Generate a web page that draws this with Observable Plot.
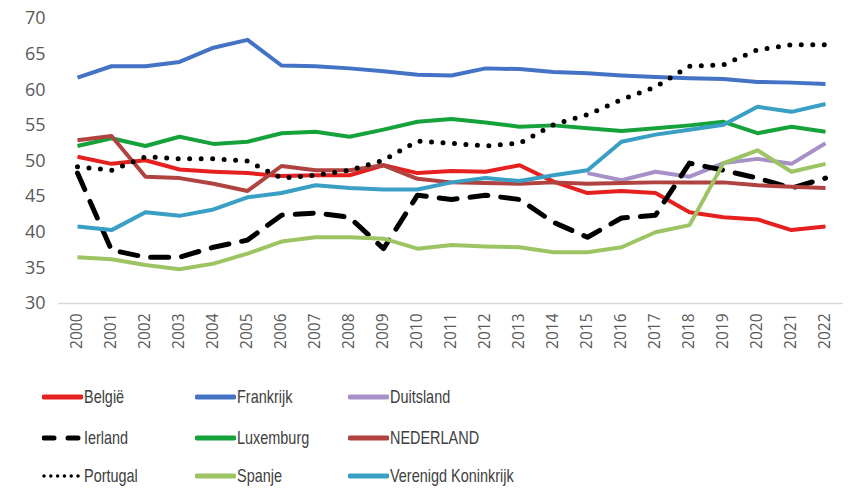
<!DOCTYPE html>
<html>
<head>
<meta charset="utf-8">
<script src="https://cdn.jsdelivr.net/npm/d3@7"></script>
<script src="https://cdn.jsdelivr.net/npm/@observablehq/plot@0.6"></script>
<style>
  html, body { margin: 0; padding: 0; background: #fff; }
  #chart { width: 850px; }
  #legend {
    position: relative;
    width: 850px;
    height: 141px;
    font-family: "Liberation Sans", "Open Sans", sans-serif;
    font-size: 19px;
    color: #404040;
  }
  .item { position: absolute; display: flex; align-items: center; height: 24px; }
  .item svg { display: block; margin-right: 1px; }
  .item span { display: inline-block; transform: scaleX(0.76); transform-origin: left center; white-space: nowrap; }
</style>
</head>
<body>
<div id="chart"></div>
<div id="legend"></div>
<script>
const years = d3.range(2000, 2023);

const belgie    = [50.6,49.6,50.1,48.8,48.5,48.3,47.9,48.0,48.0,49.4,48.3,48.6,48.5,49.4,47.1,45.5,45.8,45.5,42.8,42.1,41.8,40.3,40.8];
const frankrijk = [61.7,63.3,63.3,63.9,65.9,67.0,63.4,63.3,63.0,62.6,62.1,62.0,63.0,62.9,62.5,62.3,62.0,61.8,61.6,61.5,61.1,61.0,60.8];
const duitsland = [null,null,null,null,null,null,null,null,null,null,null,null,null,null,null,48.3,47.3,48.5,47.8,49.7,50.3,49.6,52.5];
const ierland   = [48.3,37.5,36.5,36.5,37.9,38.9,42.4,42.7,42.1,37.7,45.2,44.6,45.2,44.6,41.4,39.3,42.0,42.4,49.7,48.7,47.6,46.2,47.6];
const luxemburg = [52.1,53.2,52.1,53.4,52.4,52.7,53.9,54.1,53.4,54.4,55.5,55.9,55.4,54.8,55.0,54.6,54.2,54.6,55.0,55.5,53.9,54.8,54.1];
const nederland = [52.9,53.5,47.8,47.6,46.8,45.8,49.3,48.7,48.7,49.4,47.5,47.0,46.9,46.8,47.0,46.8,46.9,47.0,47.0,47.0,46.6,46.4,46.2];
const portugal  = [49.2,48.7,50.6,50.3,50.3,50.0,47.6,48.0,48.7,50.1,52.8,52.5,52.1,52.5,55.1,56.5,58.6,60.4,63.3,63.5,65.6,66.3,66.3];
const spanje    = [36.5,36.2,35.4,34.8,35.6,37.0,38.7,39.3,39.3,39.1,37.7,38.2,38.0,37.9,37.2,37.2,37.9,40.0,41.0,49.7,51.5,48.5,49.6];
const vk        = [40.8,40.3,42.8,42.3,43.2,44.9,45.5,46.6,46.2,46.0,46.0,47.0,47.6,47.2,48.0,48.7,52.7,53.7,54.4,55.1,57.6,56.9,58.0];

const yTicks = [30,35,40,45,50,55,60,65,70];

const series = [
  {name: "België", values: belgie, color: "#e5201f", dash: null},
  {name: "Frankrijk", values: frankrijk, color: "#4472c4", dash: null},
  {name: "Duitsland", values: duitsland, color: "#a790c8", dash: null},
  {name: "Ierland", values: ierland, color: "#000000", dash: "dash"},
  {name: "Luxemburg", values: luxemburg, color: "#16a23a", dash: null},
  {name: "NEDERLAND", values: nederland, color: "#b0423f", dash: null},
  {name: "Portugal", values: portugal, color: "#000000", dash: "dot"},
  {name: "Spanje", values: spanje, color: "#9cc463", dash: null},
  {name: "Verenigd Koninkrijk", values: vk, color: "#3a9fc4", dash: null}
];

const lineMarks = series.map(s => {
  const data = years.map((yr, i) => ({year: yr, value: s.values[i]})).filter(d => d.value != null);
  const opts = {x: "year", y: "value", stroke: s.color, strokeWidth: 4, strokeLinejoin: "round"};
  if (s.dash === "dash") { opts.strokeDasharray = "18 13"; opts.strokeLinecap = "round"; opts.strokeWidth = 5; }
  else if (s.dash === "dot") { opts.strokeDasharray = "0 11.5"; opts.strokeLinecap = "round"; opts.strokeWidth = 5; }
  else { opts.strokeLinecap = "butt"; }
  return Plot.line(data, opts);
});

const chart = Plot.plot({
  width: 850,
  height: 350,
  marginLeft: 58,
  marginRight: 7,
  marginTop: 18,
  marginBottom: 47,
  style: {fontFamily: "'Open Sans', sans-serif", color: "#595959", background: "#fff"},
  x: {type: "point", domain: years, padding: 0.5, label: null},
  y: {domain: [30, 70], label: null},
  marks: [
    Plot.ruleY([30], {stroke: "#d9d9d9", strokeWidth: 1.5}),
    Plot.axisY({ticks: yTicks, tickSize: 0, tickPadding: 13, fontSize: 18, label: null, fill: "#595959"}),
    Plot.axisX({ticks: years, tickSize: 0, tickRotate: -90, tickPadding: 10, fontSize: 15.5, label: null, fill: "#595959", tickFormat: d => String(d)}),
    ...lineMarks
  ]
});
document.getElementById("chart").appendChild(chart);

// legend
const legend = document.getElementById("legend");
const cols = [42, 195, 348];
const rows = [47, 88, 126];
series.forEach((s, i) => {
  const c = i % 3, r = Math.floor(i / 3);
  const div = document.createElement("div");
  div.className = "item";
  div.style.left = cols[c] + "px";
  div.style.top = (rows[r] - 12) + "px";
  const ns = "http://www.w3.org/2000/svg";
  const svg = document.createElementNS(ns, "svg");
  svg.setAttribute("width", 41); svg.setAttribute("height", 24);
  const ln = document.createElementNS(ns, "line");
  ln.setAttribute("x1", 2); ln.setAttribute("x2", 39);
  ln.setAttribute("y1", 12); ln.setAttribute("y2", 12);
  ln.setAttribute("stroke", s.color);
  ln.setAttribute("stroke-width", 5);
  ln.setAttribute("stroke-linecap", "round");
  if (s.dash === "dash") ln.setAttribute("stroke-dasharray", "10 14");
  if (s.dash === "dot") { ln.setAttribute("stroke-dasharray", "0 6.8"); ln.setAttribute("stroke-width", 3.5); }
  svg.appendChild(ln);
  div.appendChild(svg);
  const span = document.createElement("span");
  span.textContent = s.name;
  div.appendChild(span);
  legend.appendChild(div);
});
</script>
</body>
</html>
